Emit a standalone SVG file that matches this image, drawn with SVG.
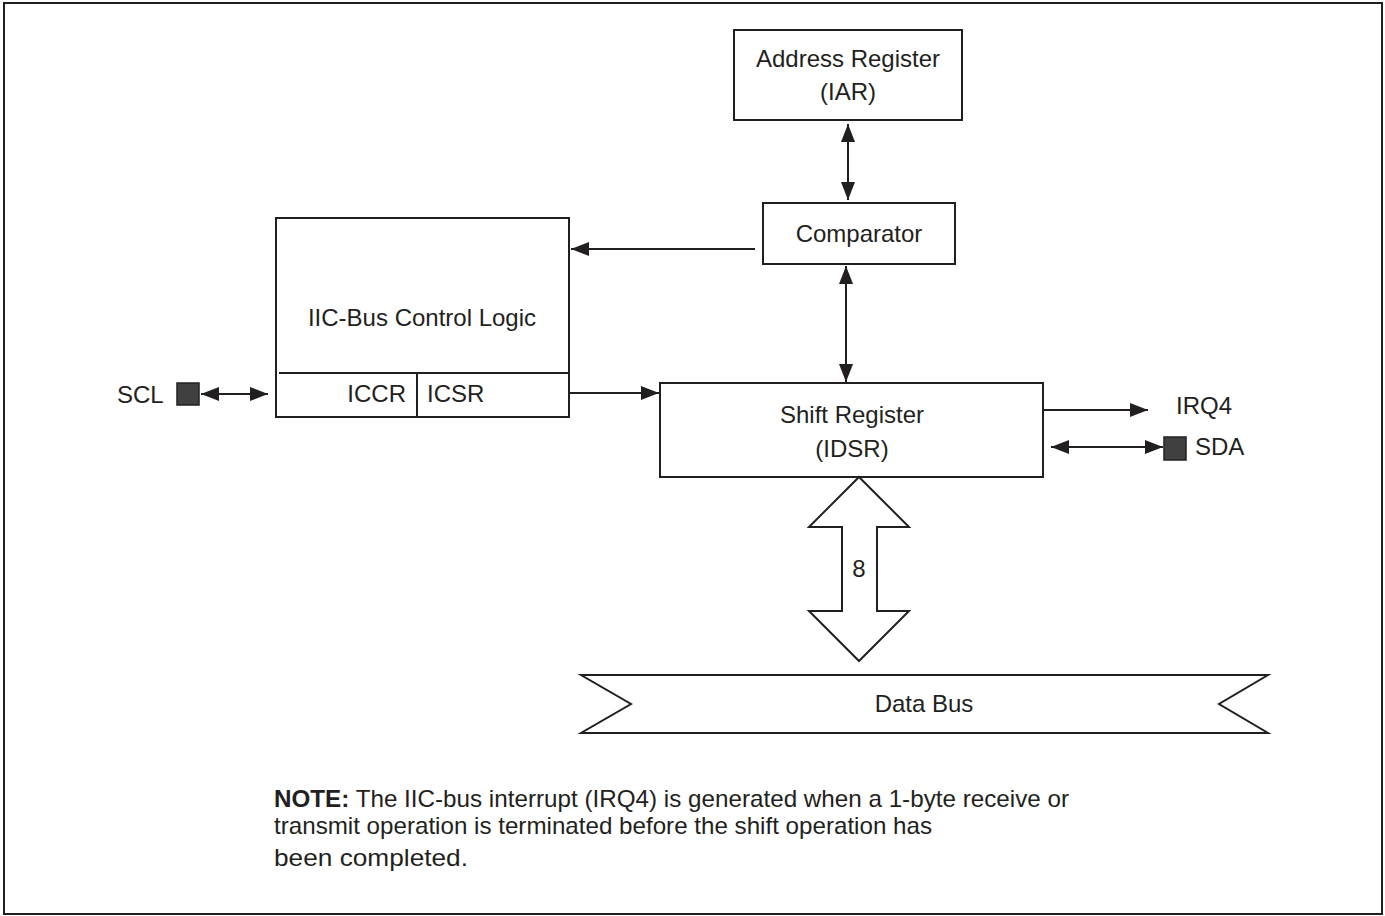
<svg xmlns="http://www.w3.org/2000/svg" width="1385" height="916" viewBox="0 0 1385 916">
<style>
.box{fill:#fff;stroke:#231f20;stroke-width:2}
.ln{fill:none;stroke:#231f20;stroke-width:2}
.t{font-family:"Liberation Sans",Arial,sans-serif;font-size:24px;fill:#231f20}
.n{font-family:"Liberation Sans",Arial,sans-serif;font-size:24px;fill:#231f20}
.pin{fill:#404040;stroke:#231f20;stroke-width:1.5}
</style>
<defs>
<marker id="ah" viewBox="0 0 18 14" refX="18" refY="7" markerWidth="18" markerHeight="14" markerUnits="userSpaceOnUse" orient="auto-start-reverse">
<path d="M0,0 L18,7 L0,14 Z" fill="#231f20"/>
</marker>
</defs>
<rect x="4" y="3" width="1378" height="911" fill="#fff" stroke="#231f20" stroke-width="2"/>
<g id="connectors">
<line class="ln" x1="848" y1="124" x2="848" y2="200" marker-start="url(#ah)" marker-end="url(#ah)"/>
<line class="ln" x1="755" y1="249" x2="571" y2="249" marker-end="url(#ah)"/>
<line class="ln" x1="846" y1="266" x2="846" y2="382" marker-start="url(#ah)" marker-end="url(#ah)"/>
<line class="ln" x1="570" y1="393" x2="659" y2="393" marker-end="url(#ah)"/>
<line class="ln" x1="201" y1="394" x2="268" y2="394" marker-start="url(#ah)" marker-end="url(#ah)"/>
<line class="ln" x1="1043" y1="410" x2="1148" y2="410" marker-end="url(#ah)"/>
<line class="ln" x1="1051" y1="447" x2="1163" y2="447" marker-start="url(#ah)" marker-end="url(#ah)"/>
</g>
<g id="iar">
<rect class="box" x="734" y="30" width="228" height="90"/>
<text class="t" x="848" y="67" text-anchor="middle">Address Register</text>
<text class="t" x="848" y="100" text-anchor="middle">(IAR)</text>
</g>
<g id="comparator">
<rect class="box" x="763" y="203" width="192" height="61"/>
<text class="t" x="859" y="242" text-anchor="middle">Comparator</text>
</g>
<g id="control">
<rect class="box" x="276" y="218" width="293" height="199"/>
<line class="ln" x1="279" y1="373" x2="569" y2="373"/>
<line class="ln" x1="417" y1="373" x2="417" y2="417"/>
<text class="t" x="422" y="326" text-anchor="middle">IIC-Bus Control Logic</text>
<text class="t" x="406" y="402" text-anchor="end">ICCR</text>
<text class="t" x="427" y="402">ICSR</text>
</g>
<g id="scl">
<rect class="pin" x="177" y="383" width="22" height="22"/>
<text class="t" x="117" y="403">SCL</text>
</g>
<g id="shift">
<rect class="box" x="660" y="383" width="383" height="94"/>
<text class="t" x="852" y="423" text-anchor="middle">Shift Register</text>
<text class="t" x="852" y="457" text-anchor="middle">(IDSR)</text>
</g>
<g id="irq4">
<text class="t" x="1176" y="414">IRQ4</text>
</g>
<g id="sda">
<rect class="pin" x="1164" y="437" width="22" height="23"/>
<text class="t" x="1195" y="455">SDA</text>
</g>
<g id="bus8">
<path class="box" d="M859,477 L909,527 L877,527 L877,611 L909,611 L859,661 L809,611 L842,611 L842,527 L809,527 Z"/>
<text class="t" x="859" y="577" text-anchor="middle">8</text>
</g>
<g id="databus">
<path class="box" d="M581,675 L1268,675 L1219,704 L1268,733 L581,733 L631,704 Z"/>
<text class="t" x="924" y="712" text-anchor="middle">Data Bus</text>
</g>
<g id="note">
<text class="n" x="274" y="807" textLength="795" lengthAdjust="spacingAndGlyphs"><tspan font-weight="bold">NOTE:</tspan> The IIC-bus interrupt (IRQ4) is generated when a 1-byte receive or</text>
<text class="n" x="274" y="834" textLength="658" lengthAdjust="spacingAndGlyphs">transmit operation is terminated before the shift operation has</text>
<text class="n" x="274" y="866" textLength="194" lengthAdjust="spacingAndGlyphs">been completed.</text>
</g>
</svg>
